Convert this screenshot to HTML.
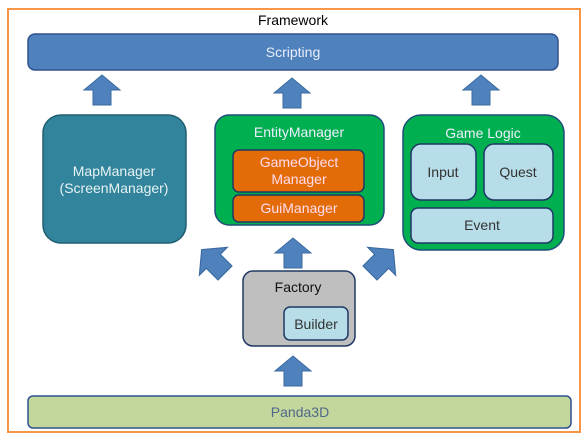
<!DOCTYPE html>
<html><head><style>
body{margin:0;background:#fff;}
svg text{font-family:"Liberation Sans",sans-serif;font-size:14px;text-anchor:middle;}
</style></head><body>
<svg width="586" height="439" xmlns="http://www.w3.org/2000/svg">
<defs>
<polygon id="ar" points="-9,0 9,0 9,-15 18,-15 0,-30 -18,-15 -9,-15" fill="#4f81bd" stroke="#3a6aa0" stroke-width="1"/>
</defs>
<rect x="8" y="9" width="572" height="423" fill="#fff" stroke="#f79646" stroke-width="2"/>
<text x="293" y="25" fill="#000">Framework</text>
<rect x="28" y="34" width="530" height="36" rx="7" fill="#4f81bd" stroke="#2f528f" stroke-width="1.5"/>
<text x="293" y="57" fill="#e8eef8">Scripting</text>
<use href="#ar" transform="translate(102,105)"/>
<use href="#ar" transform="translate(292,108)"/>
<use href="#ar" transform="translate(481,105)"/>
<rect x="43" y="115" width="143" height="128" rx="18" fill="#31849b" stroke="#215e70" stroke-width="1.5"/>
<text x="114" y="176" fill="#e8f2f5">MapManager</text>
<text x="114" y="193" fill="#e8f2f5">(ScreenManager)</text>
<rect x="215" y="115" width="169" height="110" rx="14" fill="#00b050" stroke="#1f4e79" stroke-width="1.5"/>
<text x="299" y="137" fill="#eef">EntityManager</text>
<rect x="233" y="150" width="131" height="42" rx="6" fill="#e36c09" stroke="#1f3864" stroke-width="1.5"/>
<text x="299" y="167" fill="#fde">GameObject</text>
<text x="299" y="184" fill="#fde">Manager</text>
<rect x="233" y="195" width="131" height="27" rx="6" fill="#e36c09" stroke="#1f3864" stroke-width="1.5"/>
<text x="299" y="213" fill="#fde">GuiManager</text>
<rect x="403" y="115" width="161" height="135" rx="18" fill="#00b050" stroke="#1f4e79" stroke-width="1.5"/>
<text x="483" y="138" fill="#eef">Game Logic</text>
<rect x="411" y="144" width="65" height="56" rx="10" fill="#b7dde8" stroke="#1f3864" stroke-width="1.5"/>
<text x="443" y="177" fill="#333">Input</text>
<rect x="484" y="144" width="69" height="56" rx="10" fill="#b7dde8" stroke="#1f3864" stroke-width="1.5"/>
<text x="518" y="177" fill="#333">Quest</text>
<rect x="411" y="208" width="142" height="35" rx="7" fill="#b7dde8" stroke="#1f3864" stroke-width="1.5"/>
<text x="482" y="230" fill="#333">Event</text>
<use href="#ar" transform="translate(293,268)"/>
<use href="#ar" transform="translate(225,273) rotate(-45) scale(1.1)"/>
<use href="#ar" transform="translate(370,273) rotate(45) scale(1.1)"/>
<rect x="243" y="271" width="112" height="75" rx="10" fill="#bfbfbf" stroke="#1f3864" stroke-width="1.5"/>
<text x="298" y="292" fill="#111">Factory</text>
<rect x="284" y="307" width="64" height="33" rx="6" fill="#b7dde8" stroke="#1f3864" stroke-width="1.5"/>
<text x="316" y="329" fill="#333">Builder</text>
<use href="#ar" transform="translate(293,386)"/>
<rect x="28" y="396" width="543" height="32" rx="5" fill="#c3d69b" stroke="#2f528f" stroke-width="1.5"/>
<text x="300" y="417" fill="#4f6a8a">Panda3D</text>
</svg>
</body></html>
